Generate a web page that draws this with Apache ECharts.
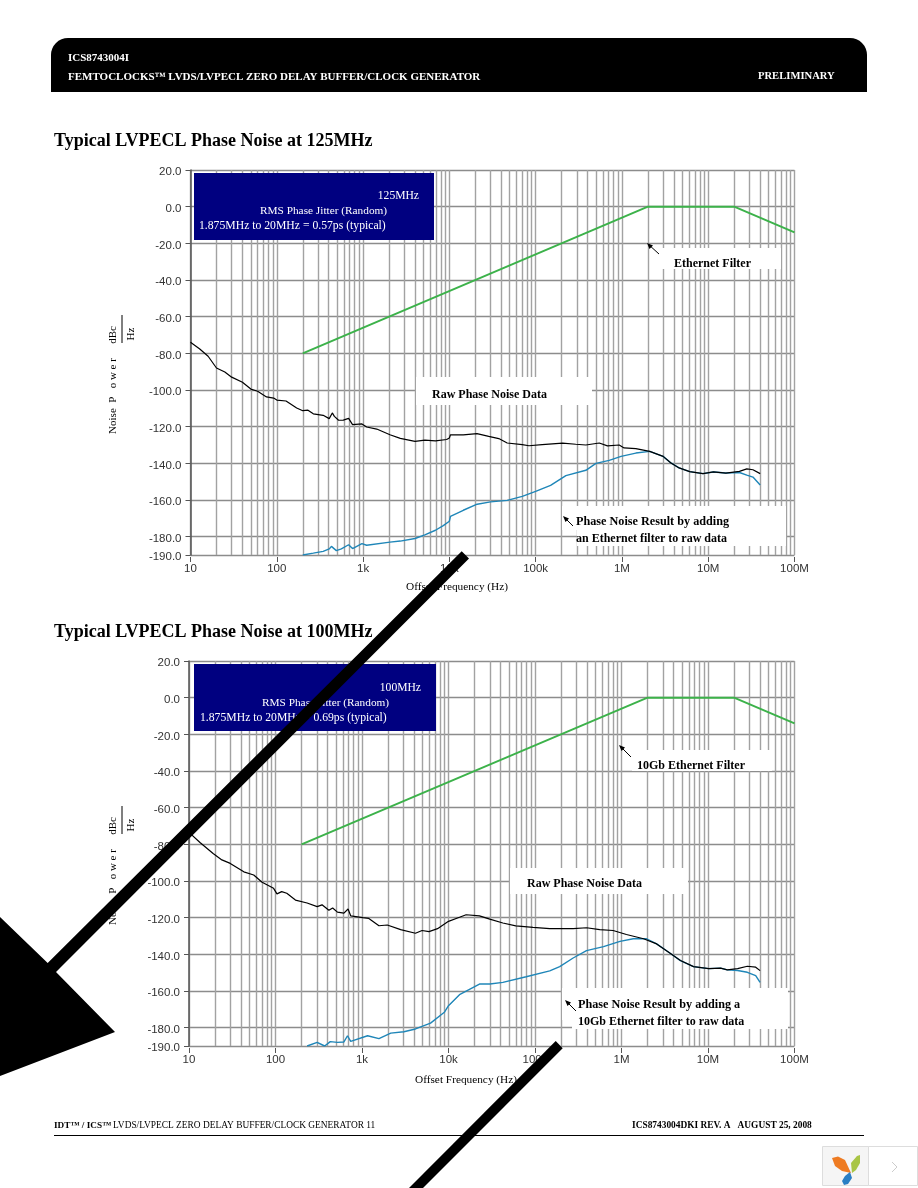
<!DOCTYPE html>
<html>
<head>
<meta charset="utf-8">
<title>Typical LVPECL Phase Noise</title>
<script src="https://cdn.jsdelivr.net/npm/echarts@6/dist/echarts.min.js"></script>
<style>
html, body { margin: 0; padding: 0; background: #fff; }
#main { width: 918px; height: 1188px; }
</style>
</head>
<body>
<div id="main"></div>
<script>
// values: [offset frequency Hz, dBc/Hz]
var filter125 = [[200, -80], [2e6, 0], [2e7, 0], [1e8, -14]];
var filter100 = [[200, -80], [2e6, 0], [2e7, 0], [1e8, -14]];

var raw125 = [[10, -74], [12.8, -77.6], [16, -81.6], [20, -88], [25, -90.2], [30, -93], [40, -95.8], [50, -99.5],
    [60, -100.7], [76, -103.8], [92, -104.4], [100, -105.5], [128, -106], [170, -109.8], [200, -111.3], [230, -111],
    [265, -113], [345, -113.8], [405, -115.6], [440, -112.5], [465, -114.4], [520, -116.5], [590, -116.4], [680, -115.5],
    [755, -118.9], [970, -118.5], [1100, -120.2], [1440, -121.3], [2050, -124.4], [2700, -126.4], [4000, -128], [5200, -127.3],
    [6900, -127.8], [9300, -127], [10000, -126.2], [10300, -124.4], [14500, -124.5], [20900, -123.8], [28600, -125.3],
    [37400, -126.5], [46800, -128.9], [70000, -129.8], [83600, -130.4], [119000, -129.8], [205000, -129], [292000, -129.6],
    [382000, -130], [546000, -128.9], [680000, -130.5], [930000, -130], [1060000, -131.6], [1450000, -132], [2100000, -133.5],
    [3000000, -136.2], [3700000, -139.8], [4600000, -142.5], [6100000, -144.5], [8700000, -145.6], [11500000, -144.7],
    [16000000, -145.3], [23000000, -144.4], [28000000, -143], [33000000, -143.5], [40000000, -145.6]];

var result125 = [[200, -190], [265, -189], [345, -188], [405, -186.7], [430, -185.3], [490, -187.6], [560, -186.7], [680, -184.4],
    [755, -186.5], [970, -183.8], [1100, -184.7], [2050, -183], [2700, -182.4], [4000, -181], [5200, -179], [6900, -176.5],
    [8500, -174], [10000, -171.6], [10300, -168.9], [14500, -165.6], [21000, -162.3], [30000, -161], [46800, -160.2], [70000, -158],
    [100000, -155.3], [149000, -152], [224000, -146.7], [382000, -143.8], [500000, -140], [712000, -138.4], [977000, -136.2],
    [1450000, -134.4], [2100000, -133.5], [3000000, -136.2], [3700000, -139.8], [4600000, -142.5], [6100000, -144.5],
    [8700000, -145.6], [11500000, -144.7], [16000000, -145.3], [23000000, -145], [28000000, -146.4], [33000000, -147.5], [40000000, -151.8]];

var raw100 = [[10, -73.5], [13.4, -79], [19, -85], [24, -88.5], [30, -90.4], [43, -95], [56, -96.7], [70, -100.7],
    [95, -104], [104, -107], [118, -105.8], [135, -106.7], [170, -110.4], [232, -112], [303, -114], [345, -113],
    [414, -116], [458, -114.7], [520, -117], [618, -117.5], [690, -115.3], [740, -119], [1020, -120], [1200, -120.4],
    [1570, -124.4], [1960, -124], [2800, -126.5], [4150, -128.5], [4950, -127], [5950, -127.6], [7470, -126], [10000, -122],
    [13400, -119.8], [16000, -118.4], [22800, -119], [30000, -120.8], [42500, -122.9], [60000, -124.5], [95000, -125.3],
    [148000, -126], [193000, -126], [276000, -126], [394000, -125.5], [560000, -126.5], [800000, -127], [1140000, -129.2],
    [1800000, -131.5], [2550000, -134.3], [3650000, -139.4], [4800000, -143.4], [6800000, -146.7], [10200000, -147.8],
    [14000000, -147.5], [16700000, -148.5], [22000000, -147.8], [28500000, -146.5], [35600000, -147], [40000000, -148.9]];

var result100 = [[232, -190], [303, -188], [370, -190], [430, -187.6], [520, -188], [618, -187.8], [680, -184.4], [740, -187.5],
    [1160, -184.4], [1570, -186], [2150, -183], [3050, -182.2], [4150, -180.7], [6200, -177.5], [8950, -171.6], [10000, -168],
    [13400, -162], [22800, -156.2], [30000, -156.2], [42500, -155.3], [79000, -152.2], [148000, -149], [193000, -146.7],
    [276000, -142], [394000, -138], [620000, -135.8], [960000, -132.9], [1370000, -131.5], [1950000, -131.5], [2550000, -134.3],
    [3650000, -139.4], [4800000, -143.4], [6800000, -146.7], [10200000, -147.8], [14000000, -147.5], [16700000, -148.5],
    [22000000, -148.8], [28500000, -149.8], [35600000, -151.6], [40000000, -155.3]];

var xLabels = ['10', '100', '1k', '10k', '100k', '1M', '10M', '100M'];
var xDecades = [10, 100, 1e3, 1e4, 1e5, 1e6, 1e7, 1e8];
var xGridValues = [10, 20, 30, 40, 50, 60, 70, 80, 90, 100, 200, 300, 400, 500, 600, 700, 800, 900,
    1e3, 2e3, 3e3, 4e3, 5e3, 6e3, 7e3, 8e3, 9e3, 1e4, 2e4, 3e4, 4e4, 5e4, 6e4, 7e4, 8e4, 9e4,
    1e5, 2e5, 3e5, 4e5, 5e5, 6e5, 7e5, 8e5, 9e5, 1e6, 2e6, 3e6, 4e6, 5e6, 6e6, 7e6, 8e6, 9e6,
    1e7, 2e7, 3e7, 4e7, 5e7, 6e7, 7e7, 8e7, 9e7, 1e8];
var yTicks = [20, 0, -20, -40, -60, -80, -100, -120, -140, -160, -180, -190];

var SERIF = '"Liberation Serif", serif';
var SANS = '"Liberation Sans", sans-serif';

var myChart = echarts.init(document.getElementById('main'));

function label(x, y, str, size, bold, color, align, rot) {
    return {
        type: 'text', x: x, y: y + 1, z: 20, rotation: rot || 0,
        style: {
            text: str, fill: color || '#000', align: align || 'left', verticalAlign: 'middle',
            font: (bold ? 'bold ' : '') + size + 'px ' + SERIF
        }
    };
}

function box(x, y, w, h, color, z) {
    return { type: 'rect', z: z || 15, shape: { x: x, y: y, width: w, height: h }, style: { fill: color || '#fff' } };
}

function pointer(x1, y1, x2, y2) {
    return [
        { type: 'line', z: 20, shape: { x1: x1, y1: y1, x2: x2, y2: y2 }, style: { stroke: '#000', lineWidth: 1 } },
        { type: 'polygon', z: 20, shape: { points: [[x1 - 1, y1 - 1], [x1 + 5, y1 + 1.5], [x1 + 1.5, y1 + 5]] }, style: { fill: '#000' } }
    ];
}

function xAxes(gridIndex) {
    return [{
        // carries the grid lines only
        type: 'log', logBase: 10, gridIndex: gridIndex, min: 10, max: 1e8,
        axisLine: { show: false },
        axisLabel: { show: false },
        axisTick: { show: false, customValues: xGridValues },
        splitLine: { show: true, lineStyle: { color: '#a2a2a2', width: 1.4 } }
    }, {
        type: 'log', logBase: 10, gridIndex: gridIndex, min: 10, max: 1e8, position: 'bottom', offset: 2,
        axisLine: { show: false },
        axisTick: { show: true, length: 5, inside: false, customValues: xDecades, lineStyle: { color: '#555' } },
        splitLine: { show: false },
        axisLabel: {
            customValues: xDecades, margin: 6, fontFamily: SANS, fontSize: 11.5, color: '#333',
            formatter: function (v) { return xLabels[xDecades.indexOf(v)]; }
        }
    }];
}

function yAxis(gridIndex) {
    return {
        type: 'value', gridIndex: gridIndex, min: -190, max: 20,
        axisLine: { show: true, lineStyle: { color: '#555', width: 1.5 } },
        axisTick: { show: true, length: 5, customValues: yTicks, lineStyle: { color: '#555' } },
        axisLabel: {
            customValues: yTicks, margin: 9,
            formatter: function (v) { return '{v|' + v.toFixed(1) + '}'; },
            // the rich padding pushes the digits just under the tick
            rich: { v: { padding: [4, 0, 0, 0], fontFamily: SANS, fontSize: 11.5, color: '#333' } }
        },
        splitLine: { show: true, lineStyle: { color: '#8c8c8c', width: 1.4 } }
    };
}

function line(name, data, xi, yi, color, width, z) {
    return {
        name: name, type: 'line', xAxisIndex: xi, yAxisIndex: yi, data: data, showSymbol: false, symbol: 'none',
        animation: false, z: z, lineStyle: { color: color, width: width }
    };
}

var page = [
    // header band
    { type: 'rect', z: 1, shape: { x: 51, y: 38, width: 816, height: 54, r: [17, 17, 0, 0] }, style: { fill: '#000' } },
    label(68, 57, 'ICS8743004I', 11, true, '#fff'),
    label(68, 76, 'FEMTOCLOCKS\u2122 LVDS/LVPECL ZERO DELAY BUFFER/CLOCK GENERATOR', 11, true, '#fff'),
    label(758, 75, 'PRELIMINARY', 10.6, true, '#fff'),
    label(54, 140, 'Typical LVPECL Phase Noise at 125MHz', 18, true),
    label(54, 631, 'Typical LVPECL Phase Noise at 100MHz', 18, true),

    // 125 MHz chart notes
    box(194, 173, 240, 67, '#000080'),
    label(419, 195, '125MHz', 11.6, false, '#fff', 'right'),
    label(260, 210, 'RMS Phase Jitter (Random)', 11.3, false, '#fff'),
    label(199, 225, '1.875MHz to 20MHz = 0.57ps (typical)', 11.7, false, '#fff'),
    box(660, 248, 121, 21), label(674, 263, 'Ethernet Filter', 12, true),
    box(416, 377, 176, 28), label(432, 394, 'Raw Phase Noise Data', 12, true),
    box(577, 506, 209, 40), box(562, 506, 15, 24),
    label(576, 521, 'Phase Noise Result by adding', 12.2, true),
    label(576, 538, 'an Ethernet filter to raw data', 12, true),
    label(406, 586, 'Offset Frequency (Hz)', 11.3),
    label(113, 395, 'Noise  P   o w e r', 11, false, '#000', 'center', Math.PI / 2),
    label(113, 334, 'dBc', 11, false, '#000', 'center', Math.PI / 2),
    label(131, 333, 'Hz', 11, false, '#000', 'center', Math.PI / 2),
    { type: 'line', z: 20, shape: { x1: 122, y1: 315, x2: 122, y2: 343 }, style: { stroke: '#000', lineWidth: 1 } },

    // 100 MHz chart notes
    box(194, 664, 242, 67, '#000080'),
    label(421, 687, '100MHz', 11.6, false, '#fff', 'right'),
    label(262, 702, 'RMS Phase Jitter (Random)', 11.3, false, '#fff'),
    label(200, 717, '1.875MHz to 20MHz = 0.69ps (typical)', 11.7, false, '#fff'),
    box(632, 750, 140, 21), label(637, 765, '10Gb Ethernet Filter', 12, true),
    box(510, 868, 178, 26), label(527, 883, 'Raw Phase Noise Data', 12, true),
    box(572, 988, 216, 41), box(562, 988, 12, 32),
    label(578, 1004, 'Phase Noise Result by adding a', 12.2, true),
    label(578, 1021, '10Gb Ethernet filter to raw data', 12, true),
    label(415, 1079, 'Offset Frequency (Hz)', 11.3),
    label(113, 886, 'Noise  P   o w e r', 11, false, '#000', 'center', Math.PI / 2),
    label(113, 825, 'dBc', 11, false, '#000', 'center', Math.PI / 2),
    label(131, 824, 'Hz', 11, false, '#000', 'center', Math.PI / 2),
    { type: 'line', z: 20, shape: { x1: 122, y1: 806, x2: 122, y2: 834 }, style: { stroke: '#000', lineWidth: 1 } },

    // footer
    label(54, 1125, 'IDT\u2122 / ICS\u2122', 9.2, true),
    label(113, 1125, 'LVDS/LVPECL ZERO DELAY BUFFER/CLOCK GENERATOR 11', 9.4, false),
    label(632, 1125, 'ICS8743004DKI REV. A   AUGUST 25, 2008', 9.4, true),
    { type: 'line', z: 20, shape: { x1: 54, y1: 1135.5, x2: 864, y2: 1135.5 }, style: { stroke: '#000', lineWidth: 1 } },

    // big black arrows across the page
    { type: 'polygon', z: 30, shape: { points: [[461.7, 551.3], [469, 558.5], [56, 972], [115, 1032], [0, 1076], [0, 917], [47.7, 963]] }, style: { fill: '#000' } },
    { type: 'polygon', z: 30, shape: { points: [[555.7, 1041], [562.7, 1048.3], [423, 1188], [409, 1188]] }, style: { fill: '#000' } },

    // viewer widget in the corner
    { type: 'rect', z: 5, shape: { x: 822.5, y: 1146.5, width: 46, height: 39 }, style: { fill: '#f5f5f5', stroke: '#ddd' } },
    { type: 'rect', z: 5, shape: { x: 868.5, y: 1146.5, width: 49, height: 39 }, style: { fill: '#fff', stroke: '#ddd' } },
    { type: 'polyline', z: 6, shape: { points: [[892, 1162], [897, 1167], [892, 1172]] }, style: { stroke: '#ccc', fill: 'none', lineWidth: 1 } },
    { type: 'polygon', z: 6, shape: { points: [[832, 1158], [838, 1156.5], [845, 1160], [851, 1173], [842, 1171], [835, 1166]] }, style: { fill: '#ee7b22' } },
    { type: 'polygon', z: 6, shape: { points: [[852, 1173], [851, 1163], [857, 1156], [860, 1155], [860, 1163], [856, 1170]] }, style: { fill: '#a9c545' } },
    { type: 'polygon', z: 6, shape: { points: [[850, 1172], [852, 1178], [848, 1184], [844, 1185], [842, 1181], [845, 1176]] }, style: { fill: '#2a7fc4' } }
];
page = page.concat(pointer(648, 244, 659, 254), pointer(620, 746, 631, 757),
    pointer(564, 517, 573, 526), pointer(566, 1001, 576, 1011));

var option = {
    animation: false,
    backgroundColor: '#fff',
    grid: [
        { left: 190.5, width: 604, top: 170, height: 385 },
        { left: 189, width: 605.5, top: 661, height: 385 }
    ],
    xAxis: xAxes(0).concat(xAxes(1)),
    yAxis: [yAxis(0), yAxis(1)],
    series: [
        line('Ethernet Filter', filter125, 0, 0, '#3cb24a', 2, 3),
        line('Result', result125, 0, 0, '#1f86b8', 1.4, 3),
        line('Raw', raw125, 0, 0, '#000', 1.2, 4),
        line('10Gb Ethernet Filter', filter100, 2, 1, '#3cb24a', 2, 3),
        line('Result', result100, 2, 1, '#1f86b8', 1.4, 3),
        line('Raw', raw100, 2, 1, '#000', 1.2, 4)
    ],
    graphic: { elements: page }
};

myChart.setOption(option);
</script>
</body>
</html>
